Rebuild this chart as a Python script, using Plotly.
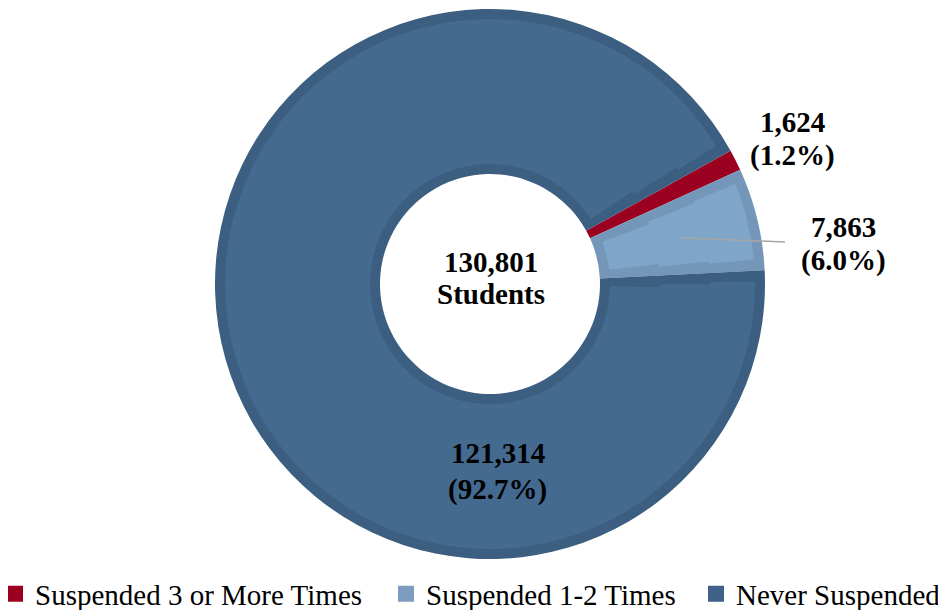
import math
import plotly.graph_objects as go

# ---- data ----
categories = ["Suspended 3 or More Times", "Suspended 1-2 Times", "Never Suspended"]
students = [1624, 7863, 121314]
center_caption = "Students"

# ---- style ----
fill_colors = ["#9c0020", "#7fa6c9", "#446a90"]
border_colors = ["#9c0020", "#7496b8", "#3c5e81"]
legend_colors = ["#9c0020", "#7a9dc0", "#40628a"]
FONT = "Liberation Serif"
FS = 29

W, H = 946, 610          # browser window
OFF = 8                  # default page (body) margin
FW, FH = W - OFF, H - OFF
CX, CY = 490, 284        # donut centre in window pixels
R_OUT, R_IN, BORDER = 275, 110, 10
ROTATION = 61

total = sum(students)
pcts = [v / total * 100 for v in students]


def px(x, y):
    """window pixel -> paper coords"""
    return (x - OFF) / FW, 1 - (y - OFF) / FH


def dom(r):
    cx, cy = CX - OFF, CY - OFF
    return dict(x=[(cx - r) / FW, (cx + r) / FW],
                y=[(FH - cy - r) / FH, (FH - cy + r) / FH])


fig = go.Figure()

# base ring: border colours (full donut)
fig.add_trace(go.Pie(
    labels=categories, values=students, sort=False, direction="clockwise",
    rotation=ROTATION, hole=R_IN / R_OUT, domain=dom(R_OUT),
    marker=dict(colors=border_colors, line=dict(width=0)),
    textinfo="none", hoverinfo="label+value+percent", showlegend=False,
))

# inset fills (a few concentric rings so the border stays even)
ring_edges = [R_IN + BORDER, 170, 220, R_OUT - BORDER]
for i in range(len(ring_edges) - 1):
    r_in = ring_edges[i]
    r_out = ring_edges[i + 1] + (1 if i < len(ring_edges) - 2 else 0)
    r_mid = (ring_edges[i] + ring_edges[i + 1]) / 2
    g = math.degrees(BORDER / r_mid) / 360 * total
    vals = [students[0] + g, students[1] - 2 * g, 2 * g, students[2] - 2 * g, g]
    cols = ["rgba(0,0,0,0)", fill_colors[1], "rgba(0,0,0,0)", fill_colors[2], "rgba(0,0,0,0)"]
    labs = [f"g{i}a", f"f{i}b", f"g{i}c", f"f{i}d", f"g{i}e"]
    fig.add_trace(go.Pie(
        labels=labs, values=vals, sort=False, direction="clockwise",
        rotation=ROTATION, hole=r_in / r_out, domain=dom(r_out),
        marker=dict(colors=cols, line=dict(width=0)),
        textinfo="none", hoverinfo="skip", showlegend=False,
    ))

# legend entries (one small legend per category, placed like the original)
legend_text_x = [35, 426, None]   # window px where each legend text starts (last: right-aligned)
legend_names = ["legend", "legend2", "legend3"]
LEGEND_Y = 594
legend_layout = {}
for name, col, lname, tx in zip(categories, legend_colors, legend_names, legend_text_x):
    fig.add_trace(go.Scatter(
        x=[None], y=[None], mode="markers", name=name, legend=lname,
        marker=dict(symbol="square", size=16, color=col), hoverinfo="skip",
    ))
    if tx is None:
        lx, anchor = 1.0, "right"
        _, ly = px(0, LEGEND_Y)
    else:
        (lx, ly), anchor = px(tx - 40, LEGEND_Y), "left"
    legend_layout[lname] = dict(
        x=lx, xanchor=anchor, y=ly, yanchor="middle", orientation="h",
        font=dict(family=FONT, size=FS, color="black"),
        bgcolor="rgba(0,0,0,0)", borderwidth=0,
    )

# ---- labels ----
label_pos = [(792, 122, 155), (843, 226.5, 260), (498, 453, 489)]
annotations = []
for v, p, (lx, y1, y2) in zip(students, pcts, label_pos):
    for txt, ly in ((f"{v:,}", y1), (f"({p:.1f}%)", y2)):
        x, y = px(lx, ly)
        annotations.append(dict(
            x=x, y=y, xref="paper", yref="paper", text=txt, showarrow=False,
            xanchor="center", yanchor="middle",
            font=dict(family=FONT, size=FS, color="black", weight="bold"),
        ))
for txt, ly in ((f"{total:,}", 262), (center_caption, 294)):
    x, y = px(491, ly)
    annotations.append(dict(
        x=x, y=y, xref="paper", yref="paper", text=txt, showarrow=False,
        xanchor="center", yanchor="middle",
        font=dict(family=FONT, size=FS, color="black", weight="bold"),
    ))

# leader line for the 1-2 times slice
mid_frac = (students[0] + students[1] / 2) / total
ang = math.radians(ROTATION + mid_frac * 360)
sx, sy = CX + 195 * math.sin(ang), CY - 195 * math.cos(ang)
x0, y0 = px(sx, sy)
x1, y1 = px(785, 242)
shapes = [dict(type="line", xref="paper", yref="paper", x0=x0, y0=y0, x1=x1, y1=y1,
               line=dict(color="#a6a6a6", width=1.5))]

fig.update_layout(
    width=FW, height=FH,
    margin=dict(l=0, r=0, t=0, b=0, autoexpand=False),
    paper_bgcolor="white", plot_bgcolor="white",
    xaxis=dict(visible=False), yaxis=dict(visible=False),
    annotations=annotations, shapes=shapes,
    **legend_layout,
)

fig.write_html("out.html")
